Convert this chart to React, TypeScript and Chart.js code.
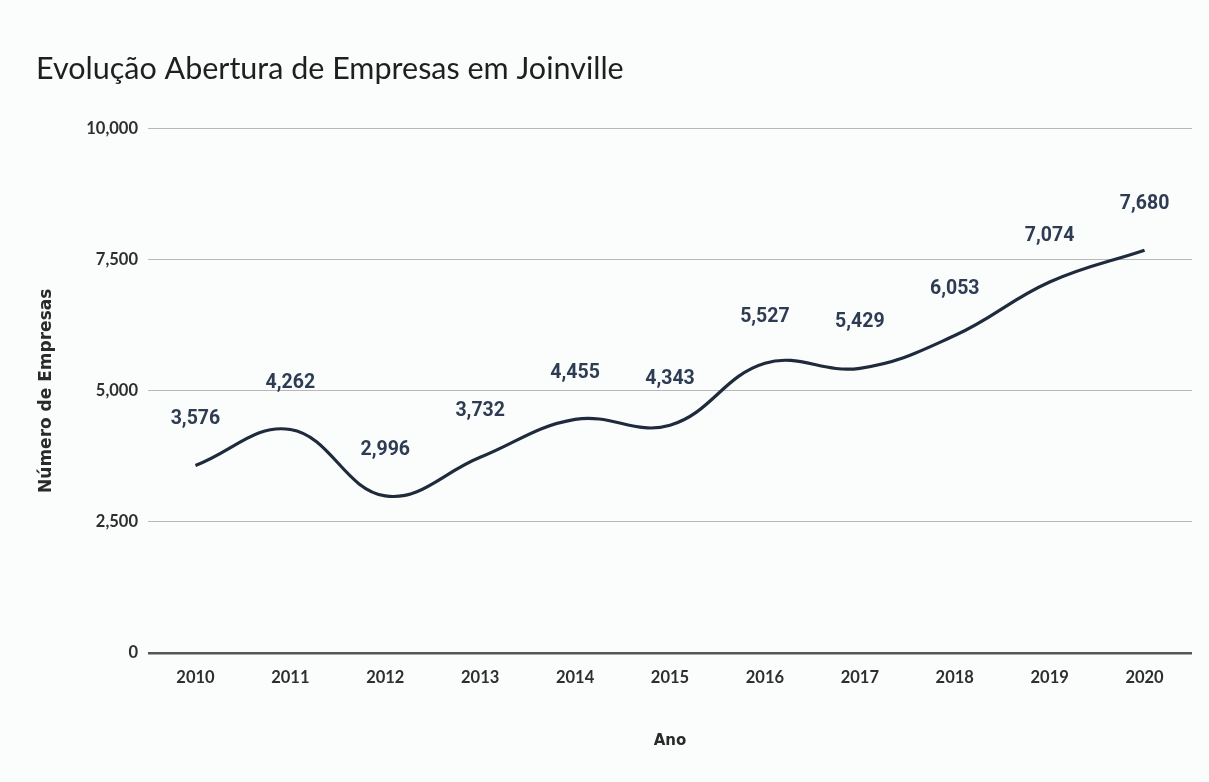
import React, { useEffect, useRef } from "react";
import { Chart, registerables } from "chart.js";

Chart.register(...registerables);

const TITLE = "Evolução Abertura de Empresas em Joinville";
const X_TITLE = "Ano";
const Y_TITLE = "Número de Empresas";
const years = ["2010", "2011", "2012", "2013", "2014", "2015", "2016", "2017", "2018", "2019", "2020"];
const empresas = [3576, 4262, 2996, 3732, 4455, 4343, 5527, 5429, 6053, 7074, 7680];
const yTicks = [0, 2500, 5000, 7500, 10000];

const fmt = (v: number) => v.toLocaleString("en-US");

const dataLabelPlugin = {
  id: "dataLabels",
  afterDatasetsDraw(chart: any) {
    const ctx = chart.ctx;
    const meta = chart.getDatasetMeta(0);
    ctx.save();
    ctx.font = "bold 19.5px Roboto";
    ctx.fillStyle = "#2e3c53";
    ctx.textAlign = "center";
    ctx.textBaseline = "middle";
    meta.data.forEach((pt: any, i: number) => {
      ctx.fillText(fmt(empresas[i]), pt.x, pt.y - 46);
    });
    ctx.restore();
  },
};

export default function App() {
  const ref = useRef<HTMLCanvasElement | null>(null);
  useEffect(() => {
    document.body.style.margin = "0";
    if (!ref.current) return;
    const chart = new Chart(ref.current, {
      type: "line",
      data: {
        labels: years,
        datasets: [
          {
            data: empresas,
            borderColor: "#1f2b3c",
            borderWidth: 3.2,
            tension: 0.4,
            pointRadius: 0,
            fill: false,
          },
        ],
      },
      options: {
        animation: false,
        responsive: true,
        maintainAspectRatio: false,
        layout: { padding: { left: 36, right: 17, top: 0, bottom: 0 } },
        plugins: {
          legend: { display: false },
          tooltip: { enabled: false },
          title: {
            display: true,
            text: TITLE,
            align: "start",
            color: "#1f1f1f",
            font: { family: "Lato", size: 30.5, weight: "normal", lineHeight: 1.2 },
            padding: { top: 51, bottom: 41 },
          },
        },
        scales: {
          x: {
            type: "category",
            offset: true,
            grid: { display: false, drawTicks: false },
            border: { display: false },
            ticks: {
              color: "#2e2e2e",
              font: { family: "Lato", size: 16.5, weight: "bold" },
              padding: 15,
              maxRotation: 0,
            },
            title: {
              display: true,
              text: X_TITLE,
              color: "#2a2a2a",
              font: { family: "DejaVu Sans", size: 15, weight: "bold", lineHeight: 1.2 },
              padding: { top: 0, bottom: 32 },
            },
            afterFit(scale: any) {
              scale.height = 129;
            },
          },
          y: {
            min: 0,
            max: 10000,
            border: { display: false },
            grid: {
              drawTicks: false,
              color: (c: any) => (c.tick && c.tick.value === 0 ? "#555" : "#b8b8b8"),
              lineWidth: (c: any) => (c.tick && c.tick.value === 0 ? 2.5 : 1),
            },
            afterBuildTicks(scale: any) {
              scale.ticks = yTicks.map((v) => ({ value: v }));
            },
            ticks: {
              color: "#2e2e2e",
              font: { family: "Lato", size: 16.5, weight: "bold" },
              padding: 10,
              callback: (v: any) => fmt(Number(v)),
            },
            title: {
              display: true,
              text: Y_TITLE,
              color: "#2a2a2a",
              font: { family: "DejaVu Sans", size: 17, weight: "bold", lineHeight: 1.2 },
              padding: { top: 0, bottom: 0 },
            },
            afterFit(scale: any) {
              scale.width = 112;
            },
          },
        },
      },
      plugins: [dataLabelPlugin],
    } as any);
    return () => chart.destroy();
  }, []);
  return (
    <div style={{ position: "fixed", left: 0, top: 0, width: 1209, height: 782, background: "#fbfcfc" }}>
      <canvas ref={ref} />
    </div>
  );
}
